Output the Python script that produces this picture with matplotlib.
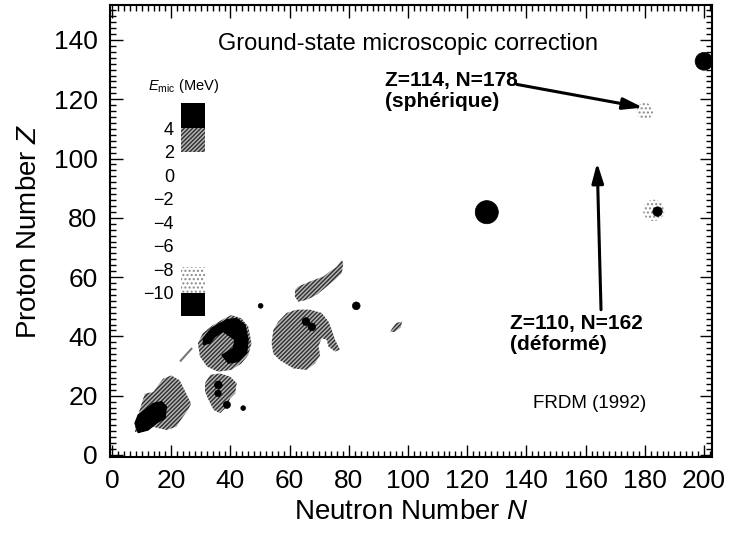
import matplotlib
matplotlib.use('Agg')
import matplotlib.pyplot as plt
from matplotlib.patches import Polygon, Circle

plt.rcParams['font.family'] = ['Liberation Sans', 'DejaVu Sans']
plt.rcParams['mathtext.fontset'] = 'custom'
plt.rcParams['mathtext.rm'] = 'Liberation Sans'
plt.rcParams['mathtext.it'] = 'Liberation Sans:italic'
plt.rcParams['hatch.linewidth'] = 1.0

# ---------------- data ----------------
# hatched regions (E_mic between 2 and 4 MeV): outlines in (N, Z)
regA_N = [7.7, 8.3, 10, 11.1, 13.9, 17.2, 20, 22.8, 24.5, 26.7, 25.6, 23.9, 21.7, 18.4, 13.9, 10.5]
regA_Z = [7.8, 11.7, 17.3, 20.7, 21.2, 25.7, 26.8, 25.2, 21.8, 17.3, 15.1, 12.8, 9.5, 8.4, 9.5, 7.8]
regB_N = [31.4, 33.1, 36.5, 39.9, 42.1, 41.6, 39.9, 38.8, 36.5, 34.3, 32.6, 31.4]
regB_Z = [24.2, 27.0, 27.5, 26.4, 24.2, 20.8, 19.1, 16.3, 14.1, 15.2, 18.6, 21.4]
regC_N = [29, 30.7, 34.1, 38.1, 40.3, 43.7, 46, 47.1, 46, 43.7, 40.3, 35.8, 32.1, 29.7]
regC_Z = [37.7, 41.1, 43.8, 46.1, 47.2, 46.1, 43.3, 37.7, 33.7, 30.9, 28.7, 28.1, 29.8, 33.2]
regD_N = [53.9, 54.5, 56.2, 59, 62.4, 66.9, 70.8, 73.1, 74.2, 75.3, 77, 75.3, 73.1, 72.5, 70.8,
          69.7, 70.3, 68.6, 65.7, 61.3, 56.8, 54.5]
regD_Z = [37.7, 42.2, 45, 47.9, 49, 49, 47.9, 45, 42.2, 38.9, 35.5, 34.9, 36.6, 38.9, 39.4,
          36.6, 33.7, 30.9, 28.7, 29.2, 31.9, 34.1]
regE_N = [61.8, 62.9, 66.9, 71.4, 73.6, 75.9, 77.6, 78.1, 77.6, 75.3, 72.5, 69.1, 65.7, 62.9, 61.8]
regE_Z = [55.7, 56.8, 58.5, 60.2, 61.9, 63.5, 65.8, 64.7, 61.3, 59.1, 56.8, 54, 52.3, 51.7, 53.4]
regF_N = [94.5, 96, 98, 97.5, 95.5, 94]
regF_Z = [42.5, 44.5, 45, 43, 41.5, 41.5]

# black regions (E_mic above 4 MeV): outlines in (N, Z)
blkA_N = [7.7, 8.8, 11.1, 13.9, 16.8, 18.4, 17.9, 15, 12.2, 8.8]
blkA_Z = [10.7, 13.5, 15.2, 17.4, 18, 16.3, 12.4, 10.7, 8.4, 7.5]
blkC_N = [30.8, 33.6, 38.7, 42.1, 44.9, 46, 45.5, 42.7, 39.3, 37.1, 40.9, 41.5, 37.6, 34.8, 33.1, 30.8]
blkC_Z = [39.4, 42.8, 45.6, 46.1, 43.9, 38.9, 34.4, 31.5, 30.9, 33.7, 36, 38.8, 41.6, 39.9, 37.7, 37.2]

# small black spots: centre (N, Z) and radius
spot_N = [50.2, 82.5, 126.6, 184.3, 200.0, 35.9, 35.8, 38.8, 44.3, 65.5, 67.5]
spot_Z = [50.3, 50.3, 81.9, 82.1, 132.8, 23.6, 20.8, 16.9, 15.8, 45.0, 43.2]
spot_R = [0.8, 1.3, 3.9, 1.6, 3.0, 1.3, 1.1, 1.2, 0.8, 1.3, 1.3]

# stippled spots (E_mic between -10 and -8 MeV)
stip_N = [180.0, 183.0]
stip_Z = [116.0, 82.5]
stip_R = [2.8, 3.6]

# colour key
key_lo = [-12.0, -10.0, 2.0, 4.0]
key_hi = [-10.0, -7.8, 4.0, 6.2]
key_style = ['black', 'stipple', 'hatch', 'black']
key_ticks = [4, 2, 0, -2, -4, -6, -8, -10]

x_ticks = [0, 20, 40, 60, 80, 100, 120, 140, 160, 180, 200]
y_ticks = [0, 20, 40, 60, 80, 100, 120, 140]

# ---------------- figure ----------------
fig = plt.figure(figsize=(7.36, 5.33), dpi=100)
ax = fig.add_axes([110/736, 1 - 457/533, 602/736, 452/533])
ax.set_xlim(-0.7, 202.7)
ax.set_ylim(-0.7, 151.8)

HATCH = dict(facecolor='#b4b4b4', edgecolor='#2e2e2e', hatch='////////', linewidth=0)
STIP = dict(facecolor='none', edgecolor='#8a8a8a', hatch='....', linewidth=0)

for xs, ys in [(regA_N, regA_Z), (regB_N, regB_Z), (regC_N, regC_Z),
               (regD_N, regD_Z), (regE_N, regE_Z), (regF_N, regF_Z)]:
    ax.add_patch(Polygon(list(zip(xs, ys)), closed=True, **HATCH))
for xs, ys in [(blkA_N, blkA_Z), (blkC_N, blkC_Z)]:
    ax.add_patch(Polygon(list(zip(xs, ys)), closed=True, facecolor='black', edgecolor='black', linewidth=0.8))
for n, z, r in zip(stip_N, stip_Z, stip_R):
    ax.add_patch(Circle((n, z), r, **STIP))
for n, z, r in zip(spot_N, spot_Z, spot_R):
    ax.add_patch(Circle((n, z), r, facecolor='black', edgecolor='black', linewidth=0.5))
# hatched streak near N~25
ax.plot([23.2, 26.8], [31.8, 35.8], color='#777777', lw=1.5)

ax.set_xticks(x_ticks)
ax.set_yticks(y_ticks)
ax.set_xticks(range(0, 203, 2), minor=True)
ax.set_yticks(range(0, 152, 2), minor=True)
ax.tick_params(which='both', direction='in', top=True, right=True, width=1.0, color='black')
ax.tick_params(which='major', length=9, labelsize=19, pad=9)
ax.tick_params(which='minor', length=4.5)
for s in ax.spines.values():
    s.set_linewidth(1.5)

ax.set_xlabel('Neutron Number $N$', fontsize=20, labelpad=4)
ax.set_ylabel('Proton Number $Z$', fontsize=20, labelpad=8)

ax.text(100, 138.5, 'Ground-state microscopic correction', fontsize=17, ha='center', va='center')
ax.text(92.2, 129.5, 'Z=114, N=178\n(sphérique)', fontsize=15, fontweight='bold',
        ha='left', va='top', linespacing=1.15)
ax.text(134.5, 47.5, 'Z=110, N=162\n(déformé)', fontsize=15, fontweight='bold',
        ha='left', va='top', linespacing=1.15)
ax.text(142.2, 17.2, 'FRDM (1992)', fontsize=13.5, ha='left', va='center')

arrow = dict(arrowstyle='-|>,head_length=1.2,head_width=0.35', color='black', lw=2.2,
             shrinkA=0, shrinkB=0)
ax.annotate('', xy=(179.4, 117.2), xytext=(136.8, 125.0), arrowprops=arrow)
ax.annotate('', xy=(163.9, 98.6), xytext=(165.2, 49.0), arrowprops=arrow)

# colour key
kax = fig.add_axes([181/736, 1 - 317/533, 24/736, 215/533])
kax.set_xlim(0, 1)
kax.set_ylim(-12.05, 6.25)
for lo, hi, st in zip(key_lo, key_hi, key_style):
    if st == 'black':
        kax.bar(0.5, hi - lo, bottom=lo, width=1, color='black')
    elif st == 'hatch':
        kax.bar(0.5, hi - lo, bottom=lo, width=1, **HATCH)
    else:
        kax.bar(0.5, hi - lo, bottom=lo, width=1, **STIP)
kax.set_yticks(key_ticks)
kax.set_yticklabels([str(t).replace('-', '\u2212') for t in key_ticks])
kax.tick_params(axis='y', length=0, labelsize=13, pad=5)
kax.set_xticks([])
for s in kax.spines.values():
    s.set_visible(False)
fig.text(148/736, 1 - 86/533, r'$E_{\mathrm{mic}}$ (MeV)', fontsize=10.5, ha='left', va='center')

fig.savefig('out.png', dpi=100)
